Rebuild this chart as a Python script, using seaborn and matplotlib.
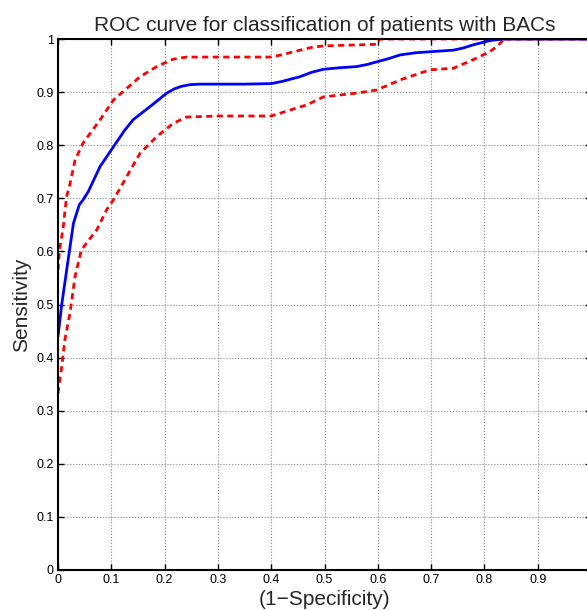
import seaborn as sns
import pandas as pd
import numpy as np
import matplotlib.pyplot as plt

# ROC curve (mean)
roc_fpr = [0.0, 0.007, 0.019, 0.029, 0.04, 0.047, 0.057, 0.079, 0.104, 0.125, 0.141, 0.173, 0.204,
           0.218, 0.232, 0.248, 0.266, 0.3, 0.35, 0.4, 0.42, 0.435, 0.454, 0.475, 0.498, 0.53,
           0.56, 0.58, 0.598, 0.62, 0.642, 0.67, 0.698, 0.742, 0.76, 0.779, 0.81, 0.835, 1.0]
roc_tpr = [0.44, 0.5, 0.584, 0.653, 0.688, 0.697, 0.713, 0.76, 0.797, 0.828, 0.848, 0.873, 0.898,
           0.906, 0.911, 0.914, 0.915, 0.915, 0.915, 0.916, 0.92, 0.924, 0.929, 0.937, 0.943, 0.946,
           0.948, 0.952, 0.957, 0.963, 0.97, 0.974, 0.976, 0.979, 0.983, 0.989, 0.997, 1.0, 1.0]

# upper confidence bound
upper_fpr = [0.0, 0.003, 0.01, 0.016, 0.022, 0.032, 0.047, 0.079, 0.104, 0.129, 0.154, 0.185,
             0.216, 0.241, 0.3, 0.4, 0.423, 0.454, 0.475, 0.498, 0.598, 0.604, 1.0]
upper_tpr = [0.565, 0.603, 0.647, 0.703, 0.725, 0.772, 0.804, 0.848, 0.885, 0.907, 0.929, 0.948,
             0.962, 0.966, 0.966, 0.966, 0.971, 0.979, 0.984, 0.987, 0.99, 1.0, 1.0]

# lower confidence bound
lower_fpr = [0.0, 0.007, 0.013, 0.0225, 0.032, 0.044, 0.073, 0.091, 0.104, 0.129, 0.154, 0.185,
             0.216, 0.241, 0.3, 0.4, 0.435, 0.467, 0.498, 0.56, 0.598, 0.642, 0.698, 0.742,
             0.779, 0.81, 0.825, 0.835, 0.84, 1.0]
lower_tpr = [0.333, 0.383, 0.434, 0.484, 0.553, 0.603, 0.641, 0.678, 0.697, 0.741, 0.785, 0.816,
             0.841, 0.853, 0.855, 0.855, 0.866, 0.876, 0.891, 0.898, 0.904, 0.923, 0.942, 0.945,
             0.961, 0.976, 0.987, 0.998, 1.0, 1.0]

xticks = [0, 0.1, 0.2, 0.3, 0.4, 0.5, 0.6, 0.7, 0.8, 0.9, 1]
yticks = [0, 0.1, 0.2, 0.3, 0.4, 0.5, 0.6, 0.7, 0.8, 0.9, 1]
ytick_labels = ["0", "0.1", "0.2", "0.3", "0.4", "0.5", "0.6", "0.7", "0.8", "0.9", "1"]
# the "1" at the right end falls outside the picture in the reference
xtick_labels = ["0", "0.1", "0.2", "0.3", "0.4", "0.5", "0.6", "0.7", "0.8", "0.9", ""]

sns.set_style("ticks")
plt.rcParams['font.family'] = ['Liberation Sans', 'DejaVu Sans']

fig = plt.figure(figsize=(5.87, 6.10), dpi=100)
ax = fig.add_axes([58 / 587, 40 / 610, 533 / 587, 531 / 610])

sns.lineplot(x=upper_fpr, y=upper_tpr, sort=False, ax=ax, color="red", linewidth=2)
sns.lineplot(x=lower_fpr, y=lower_tpr, sort=False, ax=ax, color="red", linewidth=2)
sns.lineplot(x=roc_fpr, y=roc_tpr, sort=False, ax=ax, color="blue", linewidth=2)
ax.lines[0].set_linestyle((0, (2.2, 1.6)))
ax.lines[1].set_linestyle((0, (2.2, 1.6)))

ax.set_xlim(0, 1)
ax.set_ylim(0, 1)
ax.set_xticks(xticks)
ax.set_yticks(yticks)
ax.set_xticklabels(xtick_labels, fontsize=9)
ax.set_yticklabels(ytick_labels, fontsize=9)
ax.tick_params(direction="in", length=4, width=1, top=True, right=True, pad=3, colors="black")
ax.grid(True, linestyle=":", color="#888888", linewidth=0.8)
for side in ["left", "bottom", "top", "right"]:
    ax.spines[side].set_linewidth(1.5)
    ax.spines[side].set_color("black")

ax.set_title("ROC curve for classification of patients with BACs", fontsize=15, pad=6)
ax.set_xlabel("(1\u2212Specificity)", fontsize=15, labelpad=3)
ax.set_ylabel("Sensitivity", fontsize=15, labelpad=4)

fig.savefig("out.png", dpi=100)
